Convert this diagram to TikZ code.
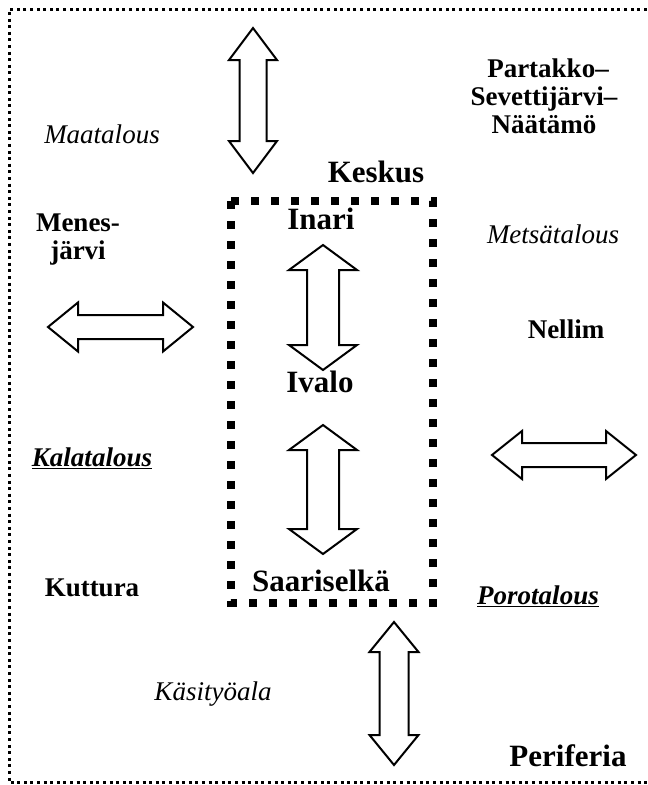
\documentclass[tikz,border=0pt]{standalone}
\usepackage{fontspec}
\setmainfont{Liberation Serif}
\newcommand\myVarrow[6]{% cx, y1, y2, headhalf, shafthalf, headlen
  \draw[blockarrow] (#1,#2) -- ({#1+#4},{#2+#6}) -- ({#1+#5},{#2+#6}) -- ({#1+#5},{#3-#6}) -- ({#1+#4},{#3-#6}) -- (#1,#3) -- ({#1-#4},{#3-#6}) -- ({#1-#5},{#3-#6}) -- ({#1-#5},{#2+#6}) -- ({#1-#4},{#2+#6}) -- cycle;}
\newcommand\myHarrow[6]{% cy, x1, x2, headhalf, shafthalf, headlen
  \draw[blockarrow] (#2,#1) -- ({#2+#6},{#1-#4}) -- ({#2+#6},{#1-#5}) -- ({#3-#6},{#1-#5}) -- ({#3-#6},{#1-#4}) -- (#3,#1) -- ({#3-#6},{#1+#4}) -- ({#3-#6},{#1+#5}) -- ({#2+#6},{#1+#5}) -- ({#2+#6},{#1+#4}) -- cycle;}
\tikzset{
  blockarrow/.style={draw=black, fill=white, line width=2pt, line join=miter},
  small/.style={anchor=base, inner sep=0pt, font=\fontsize{27}{32}\selectfont\bfseries},
  big/.style={anchor=base, inner sep=0pt, font=\fontsize{31}{36}\selectfont\bfseries},
  ital/.style={anchor=base, inner sep=0pt, font=\fontsize{27}{32}\selectfont\itshape},
  bital/.style={anchor=base, inner sep=0pt, font=\fontsize{27}{32}\selectfont\bfseries\itshape},
  outerframe/.style={line width=3pt, dash pattern=on 3pt off 3.6pt},
  innerframe/.style={line width=8pt, dash pattern=on 8pt off 12pt},
}
\begin{document}
\begin{tikzpicture}[x=1pt,y=-1pt]
\useasboundingbox (0,0) rectangle (648,785);
% outer dotted frame (right side outside the picture)
\draw[outerframe] (660,9.5) -- (9,9.5) -- (9,782.5) -- (660,782.5);
% inner dotted frame (Keskus)
\draw[innerframe] (231,201) rectangle (433,603);
% arrows
\myVarrow{253}{28}{173}{24}{13.5}{32}
\myHarrow{327}{48}{193}{24.5}{12}{30}
\myHarrow{455}{492}{636}{24}{12}{30}
\myVarrow{323}{245}{370}{34}{16}{25}
\myVarrow{323}{425}{554}{34}{16}{25}
\myVarrow{394}{622}{765}{24.5}{14.5}{30}
% labels
\node[ital] (maatalous) at (102,143) {Maatalous};
\node[small] (partakko1) at (548,77) {Partakko–};
\node[small] (partakko2) at (544,105) {Sevettijärvi–};
\node[small] (partakko3) at (544,133) {Näätämö};
\node[big] (keskus) at (376,182) {Keskus};
\node[small] (menes1) at (78,231) {Menes-};
\node[small] (menes2) at (78,259) {järvi};
\node[ital] (metsa) at (553,243) {Metsätalous};
\node[big] (inari) at (321,229) {Inari};
\node[small] (nellim) at (566,338) {Nellim};
\node[big] (ivalo) at (320,392) {Ivalo};
\node[bital] (kala) at (92,466) {\underline{Kalatalous}};
\node[small] (kuttura) at (92,596) {Kuttura};
\node[big] (saari) at (321,591) {Saariselkä};
\node[bital] (poro) at (538,604) {\underline{Porotalous}};
\node[ital] (kasity) at (213,700) {Käsityöala};
\node[big] (periferia) at (568,766) {Periferia};
\end{tikzpicture}
\end{document}
